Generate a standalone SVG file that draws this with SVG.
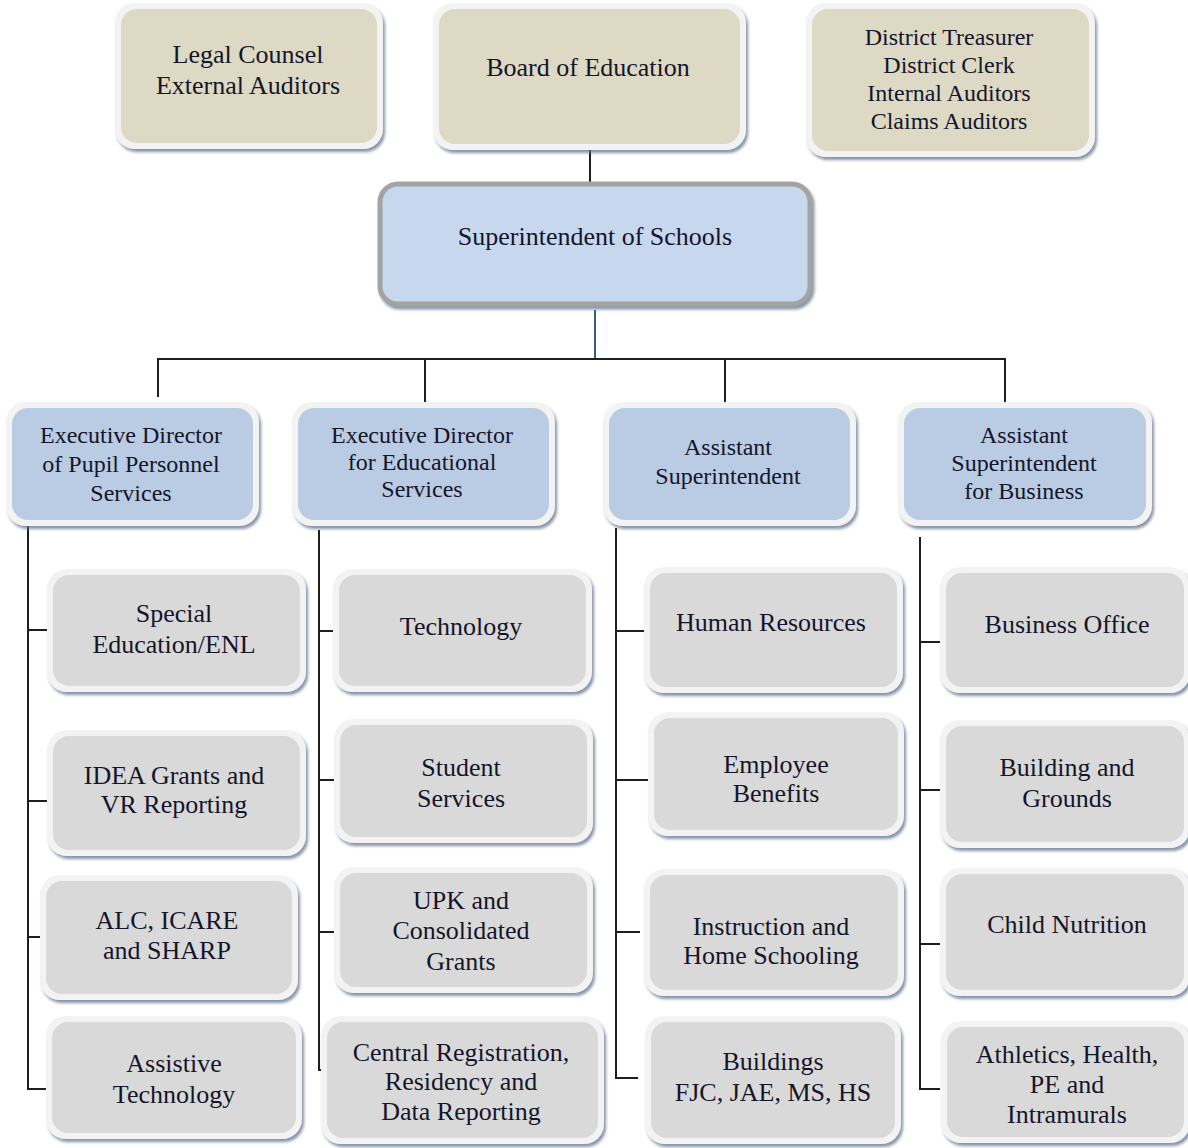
<svg xmlns="http://www.w3.org/2000/svg" width="1188" height="1148" viewBox="0 0 1188 1148">
<defs>
<filter id="sh" x="-10%" y="-10%" width="120%" height="130%">
<feDropShadow dx="2" dy="3" stdDeviation="1.5" flood-color="#5f6f8c" flood-opacity="0.75"/>
</filter>
<style>
.frame{fill:#f3f3f3;filter:url(#sh)}
.tan{fill:#ddd9c4}
.blue{fill:#b9cce4}
.gray{fill:#d9d9d9}
.sup{fill:#c6d7ee;stroke:#a3a3a3;stroke-width:5}
.lbl{fill:#15152a;text-anchor:middle}
.t26{font-size:26px}
.t24{font-size:24px}
.ln{stroke:#1e1e1e;stroke-width:2;fill:none}
</style>
</defs>
<rect width="1188" height="1148" fill="#ffffff"/>

<g id="connectors">
<path class="ln" d="M590 148V184"/>
<path d="M595 310V359" stroke="#3d5a8a" stroke-width="2" fill="none"/>
<path class="ln" d="M158 397V359H1005V405M425 359V402M725 359V402"/>
<path class="ln" d="M28 522V1089H52M28 630H50M28 801H50M28 937H43"/>
<path class="ln" d="M319 530V1070H333M319 631H338M319 780H338M319 932H338"/>
<path class="ln" d="M616 528V1078H638M616 631H648M616 780H648M616 932H640"/>
<path class="ln" d="M920 537V1089H940M920 642H940M920 790H940M920 944H940"/>
</g>

<g font-family="Liberation Serif, Tinos, Times New Roman, DejaVu Serif, serif" class="lbl">
<g id="legal">
<rect class="frame" x="115" y="3" width="268" height="146" rx="20"/>
<rect class="tan" x="121" y="9" width="256" height="134" rx="16"/>
<text class="t26" x="248" y="63">Legal Counsel</text>
<text class="t26" x="248" y="94">External Auditors</text>
</g>
<g id="board">
<rect class="frame" x="433" y="3" width="313" height="147" rx="20"/>
<rect class="tan" x="439" y="9" width="301" height="135" rx="16"/>
<text class="t26" x="588" y="76">Board of Education</text>
</g>
<g id="district">
<rect class="frame" x="806" y="3" width="289" height="154" rx="20"/>
<rect class="tan" x="812" y="9" width="277" height="142" rx="16"/>
<text class="t24" x="949" y="45">District Treasurer</text>
<text class="t24" x="949" y="73">District Clerk</text>
<text class="t24" x="949" y="101">Internal Auditors</text>
<text class="t24" x="949" y="129">Claims Auditors</text>
</g>
<g id="superintendent">
<rect class="sup" x="380" y="184" width="430" height="120" rx="18" filter="url(#sh)"/>
<text class="t26" x="595" y="245">Superintendent of Schools</text>
</g>

<g id="exec-pupil">
<rect class="frame" x="6" y="402" width="253" height="124" rx="20"/>
<rect class="blue" x="12" y="408" width="241" height="112" rx="16"/>
<text class="t24" x="131" y="443">Executive Director</text>
<text class="t24" x="131" y="472">of Pupil Personnel</text>
<text class="t24" x="131" y="501">Services</text>
</g>
<g id="exec-edu">
<rect class="frame" x="292" y="402" width="263" height="124" rx="20"/>
<rect class="blue" x="298" y="408" width="251" height="112" rx="16"/>
<text class="t24" x="422" y="443">Executive Director</text>
<text class="t24" x="422" y="470">for Educational</text>
<text class="t24" x="422" y="497">Services</text>
</g>
<g id="asst-sup">
<rect class="frame" x="603" y="402" width="253" height="124" rx="20"/>
<rect class="blue" x="609" y="408" width="241" height="112" rx="16"/>
<text class="t24" x="728" y="455">Assistant</text>
<text class="t24" x="728" y="484">Superintendent</text>
</g>
<g id="asst-business">
<rect class="frame" x="898" y="402" width="254" height="124" rx="20"/>
<rect class="blue" x="904" y="408" width="242" height="112" rx="16"/>
<text class="t24" x="1024" y="443">Assistant</text>
<text class="t24" x="1024" y="471">Superintendent</text>
<text class="t24" x="1024" y="499">for Business</text>
</g>

<g id="special-ed">
<rect class="frame" x="47" y="569" width="259" height="123" rx="20"/>
<rect class="gray" x="53" y="575" width="247" height="111" rx="16"/>
<text class="t26" x="174" y="622">Special</text>
<text class="t26" x="174" y="653">Education/ENL</text>
</g>
<g id="idea">
<rect class="frame" x="47" y="730" width="259" height="126" rx="20"/>
<rect class="gray" x="53" y="736" width="247" height="114" rx="16"/>
<text class="t26" x="174" y="784">IDEA Grants and</text>
<text class="t26" x="174" y="813">VR Reporting</text>
</g>
<g id="alc">
<rect class="frame" x="40" y="875" width="258" height="125" rx="20"/>
<rect class="gray" x="46" y="881" width="246" height="113" rx="16"/>
<text class="t26" x="167" y="929">ALC, ICARE</text>
<text class="t26" x="167" y="959">and SHARP</text>
</g>
<g id="assistive">
<rect class="frame" x="46" y="1016" width="256" height="123" rx="20"/>
<rect class="gray" x="52" y="1022" width="244" height="111" rx="16"/>
<text class="t26" x="174" y="1072">Assistive</text>
<text class="t26" x="174" y="1103">Technology</text>
</g>

<g id="technology">
<rect class="frame" x="333" y="569" width="259" height="123" rx="20"/>
<rect class="gray" x="339" y="575" width="247" height="111" rx="16"/>
<text class="t26" x="461" y="635">Technology</text>
</g>
<g id="student-services">
<rect class="frame" x="334" y="719" width="259" height="124" rx="20"/>
<rect class="gray" x="340" y="725" width="247" height="112" rx="16"/>
<text class="t26" x="461" y="776">Student</text>
<text class="t26" x="461" y="807">Services</text>
</g>
<g id="upk">
<rect class="frame" x="334" y="867" width="259" height="126" rx="20"/>
<rect class="gray" x="340" y="873" width="247" height="114" rx="16"/>
<text class="t26" x="461" y="909">UPK and</text>
<text class="t26" x="461" y="939">Consolidated</text>
<text class="t26" x="461" y="970">Grants</text>
</g>
<g id="central-reg">
<rect class="frame" x="321" y="1016" width="283" height="128" rx="20"/>
<rect class="gray" x="327" y="1022" width="271" height="116" rx="16"/>
<text class="t26" x="461" y="1061">Central Registration,</text>
<text class="t26" x="461" y="1090">Residency and</text>
<text class="t26" x="461" y="1120">Data Reporting</text>
</g>

<g id="human-resources">
<rect class="frame" x="644" y="567" width="259" height="126" rx="20"/>
<rect class="gray" x="650" y="573" width="247" height="114" rx="16"/>
<text class="t26" x="771" y="631">Human Resources</text>
</g>
<g id="employee-benefits">
<rect class="frame" x="648" y="712" width="256" height="124" rx="20"/>
<rect class="gray" x="654" y="718" width="244" height="112" rx="16"/>
<text class="t26" x="776" y="773">Employee</text>
<text class="t26" x="776" y="802">Benefits</text>
</g>
<g id="instruction">
<rect class="frame" x="644" y="869" width="260" height="127" rx="20"/>
<rect class="gray" x="650" y="875" width="248" height="115" rx="16"/>
<text class="t26" x="771" y="935">Instruction and</text>
<text class="t26" x="771" y="964">Home Schooling</text>
</g>
<g id="buildings">
<rect class="frame" x="645" y="1016" width="256" height="128" rx="20"/>
<rect class="gray" x="651" y="1022" width="244" height="116" rx="16"/>
<text class="t26" x="773" y="1070">Buildings</text>
<text class="t26" x="773" y="1101">FJC, JAE, MS, HS</text>
</g>

<g id="business-office">
<rect class="frame" x="940" y="567" width="250" height="126" rx="20"/>
<rect class="gray" x="946" y="573" width="238" height="114" rx="16"/>
<text class="t26" x="1067" y="633">Business Office</text>
</g>
<g id="building-grounds">
<rect class="frame" x="940" y="720" width="250" height="128" rx="20"/>
<rect class="gray" x="946" y="726" width="238" height="116" rx="16"/>
<text class="t26" x="1067" y="776">Building and</text>
<text class="t26" x="1067" y="807">Grounds</text>
</g>
<g id="child-nutrition">
<rect class="frame" x="940" y="868" width="250" height="128" rx="20"/>
<rect class="gray" x="946" y="874" width="238" height="116" rx="16"/>
<text class="t26" x="1067" y="933">Child Nutrition</text>
</g>
<g id="athletics">
<rect class="frame" x="941" y="1021" width="249" height="122" rx="20"/>
<rect class="gray" x="947" y="1027" width="237" height="110" rx="16"/>
<text class="t26" x="1067" y="1063">Athletics, Health,</text>
<text class="t26" x="1067" y="1093">PE and</text>
<text class="t26" x="1067" y="1123">Intramurals</text>
</g>
</g>
</svg>
